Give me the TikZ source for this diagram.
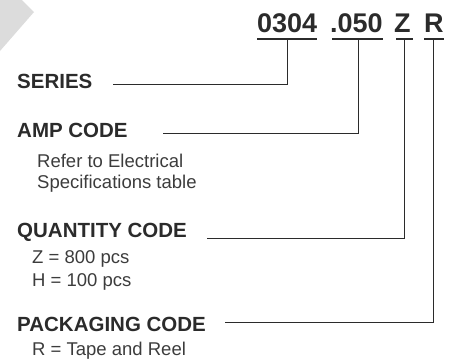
\documentclass[tikz,border=0pt]{standalone}
\usepackage{fontspec}
\setmainfont{Liberation Sans}
\usepackage{xcolor}
\usepackage{tikz}
\usetikzlibrary{positioning}

\definecolor{inkgray}{HTML}{2B2B2B}
\definecolor{textgray}{HTML}{3C3C3C}
\definecolor{tabgray}{HTML}{DCDCDC}

\tikzset{
  code/.style={font=\fontsize{27}{27}\selectfont\bfseries, text=inkgray,
    inner xsep=0pt, inner ysep=6.5pt, anchor=base west},
  heading/.style={font=\fontsize{20.5}{20.5}\selectfont\bfseries, text=inkgray,
    inner sep=0pt, anchor=base west},
  body/.style={font=\fontsize{18.5}{18.5}\selectfont, text=textgray,
    inner sep=0pt, anchor=base west},
  uline/.style={inkgray, line width=1.8pt},
  lead/.style={inkgray, line width=1pt}
}

\begin{document}
\begin{tikzpicture}[x=1pt, y=-1pt]
\useasboundingbox (0,0) rectangle (452,362);
\fill[tabgray] (0,0) -- (22,0) -- (34,12) -- (0,51) -- cycle;
% part number
\node[code] (sr) at (257,32) {0304};
\node[code] (amp) at (330,32) {.050};
\node[code] (qty) at (394,32) {Z};
\node[code] (pkg) at (424,32) {R};
\draw[uline] (sr.south west) -- (sr.south east);
\draw[uline] ([xshift=2pt]amp.south west) -- (amp.south east);
\draw[uline] ([xshift=2pt]qty.south west) -- ([xshift=2pt]qty.south east);
\draw[uline] (pkg.south west) -- (pkg.south east);
% headings
\node[heading] (series) at (17,88) {SERIES};
\node[heading] (ampcode) at (17,137) {AMP CODE};
\node[heading] (qtycode) at (17,237) {QUANTITY CODE};
\node[heading] (pkgcode) at (17,331) {PACKAGING CODE};
\node[body] (refer) at (37,167) {Refer to Electrical};
\node[body] (spec) at (37,188) {Specifications table};
\node[body] (zqty) at (32,263) {Z = 800 pcs};
\node[body] (hqty) at (32,286) {H = 100 pcs};
\node[body] (reel) at (32,355) {R = Tape and Reel};
% leaders
\coordinate (series end) at (113,84);
\coordinate (amp end) at (163,133);
\coordinate (qty end) at (207,238);
\coordinate (pkg end) at (225,322);
\draw[lead] (sr.south) |- (series end);
\draw[lead] ([xshift=2pt]amp.south) |- (amp end);
\draw[lead] ([xshift=2pt]qty.south) |- (qty end);
\draw[lead] (pkg.south) |- (pkg end);
\end{tikzpicture}
\end{document}
